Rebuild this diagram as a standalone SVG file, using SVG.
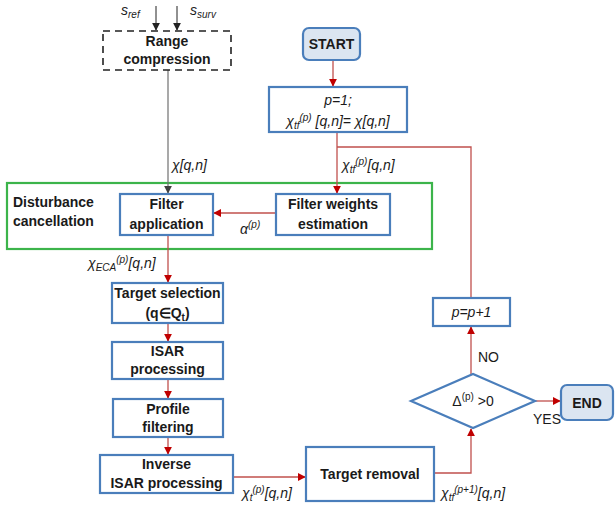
<svg xmlns="http://www.w3.org/2000/svg" width="616" height="506" viewBox="0 0 616 506">
<defs>
<marker id="ar" viewBox="0 0 10 10" refX="9" refY="5" markerWidth="8" markerHeight="8" markerUnits="userSpaceOnUse" orient="auto"><path d="M0,0 L10,5 L0,10 z" fill="#c00000"/></marker>
<marker id="ag" viewBox="0 0 10 10" refX="9" refY="5" markerWidth="8" markerHeight="8" markerUnits="userSpaceOnUse" orient="auto"><path d="M0,0 L10,5 L0,10 z" fill="#404040"/></marker>
<marker id="ak" viewBox="0 0 10 10" refX="9" refY="5" markerWidth="8" markerHeight="8" markerUnits="userSpaceOnUse" orient="auto"><path d="M0,0 L10,5 L0,10 z" fill="#222"/></marker>
</defs>
<style>
.box{fill:#fff;stroke:#4a7ebb;stroke-width:2.2}
.term{fill:#dbe5f1;stroke:#4a7ebb;stroke-width:2.2}
.t{font-family:"Liberation Sans",Arial,sans-serif;font-size:14px;font-weight:bold;fill:#1a1a1a;text-anchor:middle}
.tl{font-family:"Liberation Sans",Arial,sans-serif;font-size:14px;font-weight:bold;fill:#1a1a1a;text-anchor:start}
.i{font-family:"Liberation Sans",Arial,sans-serif;font-size:14px;font-style:italic;fill:#1a1a1a}
.n{font-family:"Liberation Sans",Arial,sans-serif;font-size:14px;fill:#1a1a1a}
.sub{font-size:10px}
.red{fill:none;stroke:#c0504d;stroke-width:1.3}
</style>
<rect x="7" y="183" width="425" height="66" fill="none" stroke="#3cb44b" stroke-width="2.2"/>
<g id="connectors">
<line x1="156" y1="6" x2="156" y2="30" stroke="#222" stroke-width="1" marker-end="url(#ak)"/>
<line x1="177" y1="6" x2="177" y2="30" stroke="#222" stroke-width="1" marker-end="url(#ak)"/>
<line x1="168" y1="70" x2="168" y2="193" stroke="#707070" stroke-width="1.2" marker-end="url(#ag)"/>
<line class="red" x1="333" y1="60" x2="333" y2="86" marker-end="url(#ar)"/>
<line class="red" x1="337" y1="132" x2="337" y2="193" marker-end="url(#ar)"/>
<polyline class="red" points="471,298 471,147 337,147"/>
<line class="red" x1="276" y1="213" x2="214" y2="213" marker-end="url(#ar)"/>
<line class="red" x1="168" y1="235" x2="168" y2="282" marker-end="url(#ar)"/>
<line class="red" x1="168" y1="323" x2="168" y2="341" marker-end="url(#ar)"/>
<line class="red" x1="168" y1="379" x2="168" y2="398" marker-end="url(#ar)"/>
<line class="red" x1="168" y1="437" x2="168" y2="454" marker-end="url(#ar)"/>
<line class="red" x1="233" y1="477" x2="305" y2="477" marker-end="url(#ar)"/>
<polyline class="red" points="434,473 471,473 471,429" marker-end="url(#ar)"/>
<line class="red" x1="471" y1="374" x2="471" y2="327" marker-end="url(#ar)"/>
<line class="red" x1="535" y1="401" x2="560" y2="401" marker-end="url(#ar)"/>
</g>
<g id="range">
<rect x="103" y="31" width="128" height="39" fill="#fff" stroke="#222" stroke-width="1.6" stroke-dasharray="7,5"/>
<text class="t" x="167" y="46">Range</text>
<text class="t" x="167" y="64">compression</text>
</g>
<text class="i" x="121" y="15" font-size="15">s<tspan class="sub" dy="3">ref</tspan></text>
<text class="i" x="190" y="15" font-size="15">s<tspan class="sub" dy="3">surv</tspan></text>
<g id="start"><rect class="term" x="303" y="28" width="57" height="32" rx="6"/><text class="t" x="331.5" y="49">START</text></g>
<g id="init"><rect class="box" x="269" y="87" width="138" height="45"/>
<text class="i" x="338" y="105" text-anchor="middle">p=1;</text>
<text class="i" x="338" y="126" text-anchor="middle">χ<tspan class="sub" dy="3">tf</tspan><tspan class="sub" dy="-8">(p)</tspan><tspan dy="5"> [q,n]= χ[q,n]</tspan></text>
</g>
<text class="i" x="172" y="170">χ[q,n]</text>
<text class="i" x="342" y="170">χ<tspan class="sub" dy="3">tf</tspan><tspan class="sub" dy="-8">(p)</tspan><tspan dy="5">[q,n]</tspan></text>
<text class="tl" x="13" y="207">Disturbance</text>
<text class="tl" x="13" y="226">cancellation</text>
<g id="filterapp"><rect class="box" x="120" y="194" width="93" height="41"/><text class="t" x="166.5" y="209">Filter</text><text class="t" x="166.5" y="229">application</text></g>
<g id="filterw"><rect class="box" x="276" y="194" width="114" height="41"/><text class="t" x="333" y="209">Filter weights</text><text class="t" x="333" y="229">estimation</text></g>
<text class="i" x="240" y="234" font-family="Liberation Serif" font-size="16">α<tspan class="sub" dy="-6">(p)</tspan></text>
<text class="i" x="88" y="268">χ<tspan class="sub" dy="3">ECA</tspan><tspan class="sub" dy="-8">(p)</tspan><tspan dy="5">[q,n]</tspan></text>
<g id="tsel"><rect class="box" x="112" y="283" width="111" height="40"/><text class="t" x="167.5" y="298">Target selection</text><text class="t" x="167.5" y="318">(q∈Q<tspan class="sub" dy="3">t</tspan><tspan dy="-3">)</tspan></text></g>
<g id="isar"><rect class="box" x="112" y="342" width="111" height="37"/><text class="t" x="167.5" y="356">ISAR</text><text class="t" x="167.5" y="374">processing</text></g>
<g id="profile"><rect class="box" x="113" y="399" width="110" height="38"/><text class="t" x="168" y="414">Profile</text><text class="t" x="168" y="432">filtering</text></g>
<g id="inverse"><rect class="box" x="100" y="455" width="133" height="38"/><text class="t" x="166.5" y="469">Inverse</text><text class="t" x="166.5" y="488">ISAR processing</text></g>
<text class="i" x="242" y="498">χ<tspan class="sub" dy="3">t</tspan><tspan class="sub" dy="-8">(p)</tspan><tspan dy="5">[q,n]</tspan></text>
<g id="tremoval"><rect class="box" x="306" y="447" width="128" height="54"/><text class="t" x="370" y="479">Target removal</text></g>
<text class="i" x="441" y="498">χ<tspan class="sub" dy="3">tf</tspan><tspan class="sub" dy="-8">(p+1)</tspan><tspan dy="5">[q,n]</tspan></text>
<g id="diamond"><polygon class="box" points="411,401 473,374 535,401 473,428"/><text class="n" x="473" y="406" text-anchor="middle">Δ<tspan class="sub" dy="-6">(p)</tspan><tspan dy="6"> &gt;0</tspan></text></g>
<g id="pinc"><rect class="box" x="433" y="298" width="77" height="28"/><text class="i" x="471.5" y="317" text-anchor="middle">p=p+1</text></g>
<g id="end"><rect class="term" x="561" y="385" width="52" height="35" rx="6"/><text class="t" x="587" y="408">END</text></g>
<text class="n" x="478" y="362">NO</text>
<text class="n" x="533" y="424">YES</text>
</svg>
